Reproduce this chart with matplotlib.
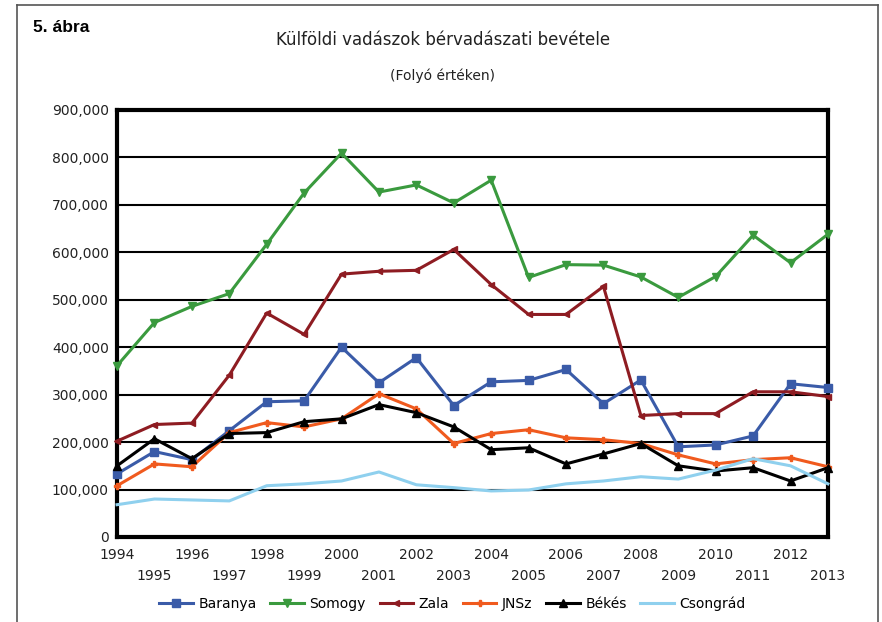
import matplotlib.pyplot as plt
from matplotlib.lines import Line2D
from matplotlib.ticker import FuncFormatter

years = list(range(1994, 2014))

baranya = [133000, 180000, 163000, 224000, 285000, 287000, 400000, 325000, 378000, 277000,
           327000, 330000, 353000, 281000, 331000, 190000, 194000, 213000, 323000, 315000]
somogy = [361000, 452000, 486000, 513000, 617000, 725000, 809000, 727000, 742000, 704000,
          752000, 547000, 574000, 573000, 548000, 505000, 549000, 636000, 578000, 638000]
zala = [202000, 237000, 240000, 341000, 472000, 427000, 554000, 560000, 562000, 606000,
        532000, 469000, 469000, 528000, 256000, 260000, 260000, 306000, 306000, 296000]
jnsz = [108000, 154000, 148000, 220000, 241000, 232000, 249000, 302000, 270000, 197000,
        218000, 226000, 209000, 205000, 197000, 173000, 154000, 163000, 167000, 148000]
bekes = [150000, 207000, 165000, 218000, 220000, 243000, 249000, 279000, 262000, 232000,
         184000, 188000, 154000, 175000, 197000, 150000, 139000, 146000, 118000, 146000]
csongrad = [68000, 80000, 78000, 76000, 108000, 112000, 118000, 137000, 110000, 104000,
            97000, 99000, 112000, 118000, 127000, 122000, 141000, 165000, 150000, 112000]

series = [
    ('Baranya', baranya, '#3a5ba8', 's', 6),
    ('Somogy', somogy, '#3a9a3e', 'v', 6),
    ('Zala', zala, '#8e1c22', '<', 5),
    ('JNSz', jnsz, '#f05a1e', 'P', 5),
    ('Békés', bekes, '#000000', '^', 6),
    ('Csongrád', csongrad, '#8fd0ee', None, 0),
]

fig = plt.figure(figsize=(8.82, 6.22), dpi=100)
ax = fig.add_axes([0.1327, 0.1367, 0.806, 0.6865])

for name, vals, color, marker, ms in series:
    ax.plot(years, vals, color=color, linewidth=2.2, marker=marker,
            markersize=ms, label=name, zorder=3, clip_on=False)

ax.set_xlim(1994, 2013)
ax.set_ylim(0, 900000)
ax.set_yticks(range(0, 900001, 100000))
ax.yaxis.set_major_formatter(FuncFormatter(lambda v, p: f'{int(v):,}'))
ax.grid(axis='y', color='black', linewidth=1.5, zorder=1)
ax.set_axisbelow(True)
for s in ax.spines.values():
    s.set_linewidth(3)
ax.tick_params(axis='both', length=0, labelsize=10, colors='#222222', pad=6)

# staggered year labels
ax.set_xticks(years)
ax.set_xticklabels([''] * len(years))
for i, y in enumerate(years):
    off = 0.0 if i % 2 == 0 else -0.05
    ax.text(y, -0.025 + off, str(y), transform=ax.get_xaxis_transform(),
            ha='center', va='top', fontsize=10, color='#222222')

fig.text(0.037, 0.955, '5. ábra', fontsize=12.5, fontweight='bold', ha='left', va='center',
         family='Liberation Sans')
fig.text(0.502, 0.935, 'Külföldi vadászok bérvadászati bevétele', fontsize=12,
         ha='center', va='center', color='#222222')
fig.text(0.502, 0.878, '(Folyó értéken)', fontsize=10, ha='center', va='center',
         color='#222222')

fig.legend(loc='center', bbox_to_anchor=(0.513, 0.029), ncol=6, frameon=False,
           fontsize=10, handlelength=2.4, columnspacing=1.0, handletextpad=0.4)

# outer frame
fig.add_artist(Line2D([0.0193, 0.0193], [0, 0.992], transform=fig.transFigure,
                      color='#555555', linewidth=1.2))
fig.add_artist(Line2D([0.0193, 0.9955], [0.992, 0.992], transform=fig.transFigure,
                      color='#555555', linewidth=1.2))
fig.add_artist(Line2D([0.9955, 0.9955], [0, 0.992], transform=fig.transFigure,
                      color='#555555', linewidth=1.2))

fig.savefig('out.png', dpi=100)
